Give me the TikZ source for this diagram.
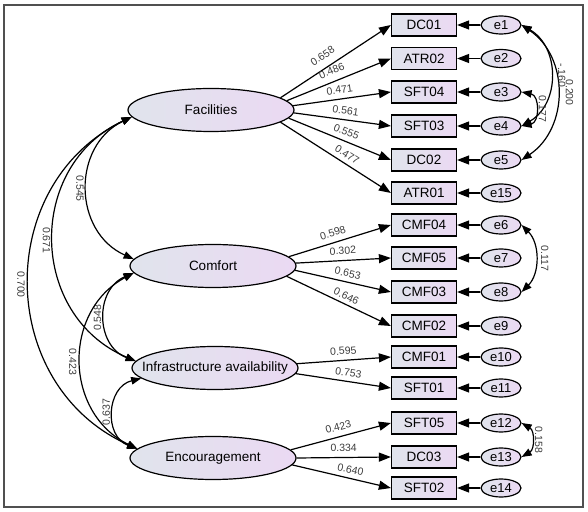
\documentclass[tikz,border=0pt]{standalone}
\usepackage{fontspec}
\setmainfont{Liberation Sans}
\usetikzlibrary{shapes.geometric,arrows.meta}

\definecolor{fillLeft}{HTML}{E0E4EC}
\definecolor{fillRight}{HTML}{EBD9F3}
\definecolor{coefGray}{HTML}{3C3C3C}
\definecolor{frameGray}{HTML}{505050}

\newcommand{\obsX}{424}
\newcommand{\errX}{501}
\newcommand{\linThick}{1.2pt}
\newcommand{\boxFont}{\fontsize{13.5}{14}\selectfont}
\newcommand{\coefFont}{\fontsize{10.5}{11}\selectfont}

\tikzset{
  latent/.style={ellipse, draw, line width=\linThick, left color=fillLeft, right color=fillRight,
    minimum width=166pt, minimum height=43pt, inner sep=0pt, font=\boxFont},
  observed/.style={rectangle, draw, line width=\linThick, left color=fillLeft, right color=fillRight,
    minimum width=65pt, minimum height=22pt, inner sep=0pt, font=\boxFont},
  errvar/.style={ellipse, draw, line width=\linThick, left color=fillLeft, right color=fillRight,
    minimum width=40pt, minimum height=18pt, inner sep=0pt, font=\fontsize{13}{14}\selectfont},
  load/.style={line width=\linThick, -{Triangle[length=12pt,width=9pt]}},
  covar/.style={line width=\linThick, {Triangle[length=10pt,width=7.5pt]}-{Triangle[length=10pt,width=7.5pt]}},
  coef/.style={font=\coefFont, text=coefGray, inner sep=1.5pt},
  lcoef/.style={coef, sloped, above=#1},
  lcoef/.default=3.5pt,
  vcoef/.style={coef, midway, inner sep=#1},
  vcoef/.default=3pt,
}

\begin{document}
\begin{tikzpicture}[x=1pt,y=1pt]

  \useasboundingbox (0,0) rectangle (588,511);

  % Frame:
  \draw[line width=1.3pt, frameGray] (4,4) rectangle (583,506);

  % Latent variables:
  \node[latent] (fac) at (211,401) {\makebox[0pt]{Facilities}};
  \node[latent] (com) at (213,245) {\makebox[0pt]{Comfort}};
  \node[latent] (inf) at (215,143) {\makebox[0pt]{Infrastructure availability}};
  \node[latent] (enc) at (213, 53) {\makebox[0pt]{Encouragement}};

  % Indicators:
  \node[observed] (dc01)  at (\obsX,486)   {DC01};
  \node[observed] (atr02) at (\obsX,452.5) {ATR02};
  \node[observed] (sft04) at (\obsX,419)   {SFT04};
  \node[observed] (sft03) at (\obsX,385)   {SFT03};
  \node[observed] (dc02)  at (\obsX,351)   {DC02};
  \node[observed] (atr01) at (\obsX,318)   {ATR01};
  \node[observed] (cmf04) at (\obsX,286)   {CMF04};
  \node[observed] (cmf05) at (\obsX,253)   {CMF05};
  \node[observed] (cmf03) at (\obsX,219)   {CMF03};
  \node[observed] (cmf02) at (\obsX,185)   {CMF02};
  \node[observed] (cmf01) at (\obsX,154)   {CMF01};
  \node[observed] (sft01) at (\obsX,123)   {SFT01};
  \node[observed] (sft05) at (\obsX, 88)   {SFT05};
  \node[observed] (dc03)  at (\obsX, 54)   {DC03};
  \node[observed] (sft02) at (\obsX, 23)   {SFT02};

  % Error terms:
  \node[errvar] (e1)  at (\errX,486)   {e1};
  \node[errvar] (e2)  at (\errX,452.5) {e2};
  \node[errvar] (e3)  at (\errX,419)   {e3};
  \node[errvar] (e4)  at (\errX,385)   {e4};
  \node[errvar] (e5)  at (\errX,351)   {e5};
  \node[errvar] (e15) at (\errX,318)   {e15};
  \node[errvar] (e6)  at (\errX,286)   {e6};
  \node[errvar] (e7)  at (\errX,253)   {e7};
  \node[errvar] (e8)  at (\errX,219)   {e8};
  \node[errvar] (e9)  at (\errX,185)   {e9};
  \node[errvar] (e10) at (\errX,154)   {e10};
  \node[errvar] (e11) at (\errX,123)   {e11};
  \node[errvar] (e12) at (\errX, 88)   {e12};
  \node[errvar] (e13) at (\errX, 54)   {e13};
  \node[errvar] (e14) at (\errX, 23)   {e14};

  % Loadings:
  \draw[load] (fac.10)  -- node[lcoef=6pt, pos=0.44] {0.658} (dc01.west);
  \draw[load] (fac.7)   -- node[lcoef=5pt, pos=0.47] {0.486} (atr02.west);
  \draw[load] (fac.3)   -- node[lcoef,     pos=0.49] {0.471} (sft04.west);
  \draw[load] (fac.-2)  -- node[lcoef,     pos=0.52] {0.561} (sft03.west);
  \draw[load] (fac.-6)  -- node[lcoef,     pos=0.53] {0.555} (dc02.west);
  \draw[load] (fac.-10) -- node[lcoef=3pt, pos=0.56] {0.477} (atr01.west);
  \draw[load] (com.7)   -- node[lcoef=4pt, pos=0.46] {0.598} (cmf04.west);
  \draw[load] (com.2)   -- node[lcoef=4pt, pos=0.50] {0.302} (cmf05.west);
  \draw[load] (com.-3)  -- node[lcoef=3pt, pos=0.53] {0.653} (cmf03.west);
  \draw[load] (com.-8)  -- node[lcoef=2pt, pos=0.54] {0.646} (cmf02.west);
  \draw[load] (inf.3)   -- node[lcoef,     pos=0.50] {0.595} (cmf01.west);
  \draw[load] (inf.-4)  -- node[lcoef=3pt, pos=0.54] {0.753} (sft01.west);
  \draw[load] (enc.6)   -- node[lcoef=4pt, pos=0.50] {0.423} (sft05.west);
  \draw[load] (enc.0)   -- node[lcoef,     pos=0.50] {0.334} (dc03.west);
  \draw[load] (enc.-5)  -- node[lcoef=3pt, pos=0.57] {0.640} (sft02.west);

  % Error paths:
  \draw[load] (e1)  -- (dc01);
  \draw[load] (e2)  -- (atr02);
  \draw[load] (e3)  -- (sft04);
  \draw[load] (e4)  -- (sft03);
  \draw[load] (e5)  -- (dc02);
  \draw[load] (e15) -- (atr01);
  \draw[load] (e6)  -- (cmf04);
  \draw[load] (e7)  -- (cmf05);
  \draw[load] (e8)  -- (cmf03);
  \draw[load] (e9)  -- (cmf02);
  \draw[load] (e10) -- (cmf01);
  \draw[load] (e11) -- (sft01);
  \draw[load] (e12) -- (sft05);
  \draw[load] (e13) -- (dc03);
  \draw[load] (e14) -- (sft02);

  % Factor covariances:
  \draw[covar] (fac.185) to[bend right=65, looseness=1.2]  node[vcoef, rotate=-90, anchor=north] {0.545} (com.175);
  \draw[covar] (fac.185) to[bend right=66, looseness=1.22] node[vcoef, rotate=-90, anchor=north] {0.671} (inf.175);
  \draw[covar] (fac.185) to[bend right=65, looseness=1.19] node[vcoef=4pt, rotate=-90, anchor=north] {0.700} (enc.173);
  \draw[covar] (com.185) to[bend right=68, looseness=1.24] node[vcoef, rotate=90,  anchor=south] {0.548} (inf.175);
  \draw[covar] (com.185) to[bend right=63, looseness=1.18] node[vcoef=4pt, rotate=-90, anchor=north] {0.423} (enc.173);
  \draw[covar] (inf.188) to[bend right=73, looseness=1.3]  node[vcoef, rotate=90,  anchor=south] {0.637} (enc.173);

  % Error covariances:
  \draw[covar] (e1.east) to[bend left=56, looseness=1.09] node[vcoef=8pt, rotate=-90, anchor=south] {0.200} (e5.east);
  \draw[covar] (e1.east) to[bend left=60, looseness=1.13] node[vcoef=7pt, rotate=-90, anchor=south] {-.160} (e4.east);
  \draw[covar] (e3.east) to[bend left=79, looseness=1.4]  node[vcoef, rotate=-90, anchor=south] {0.177} (e4.east);
  \draw[covar] (e6.east) to[bend left=45]                 node[vcoef=5pt, rotate=-90, anchor=south] {0.117} (e8.east);
  \draw[covar] (e12.east) to[bend left=60, looseness=1.15] node[vcoef, rotate=-90, anchor=south] {0.158} (e13.east);

\end{tikzpicture}
\end{document}
